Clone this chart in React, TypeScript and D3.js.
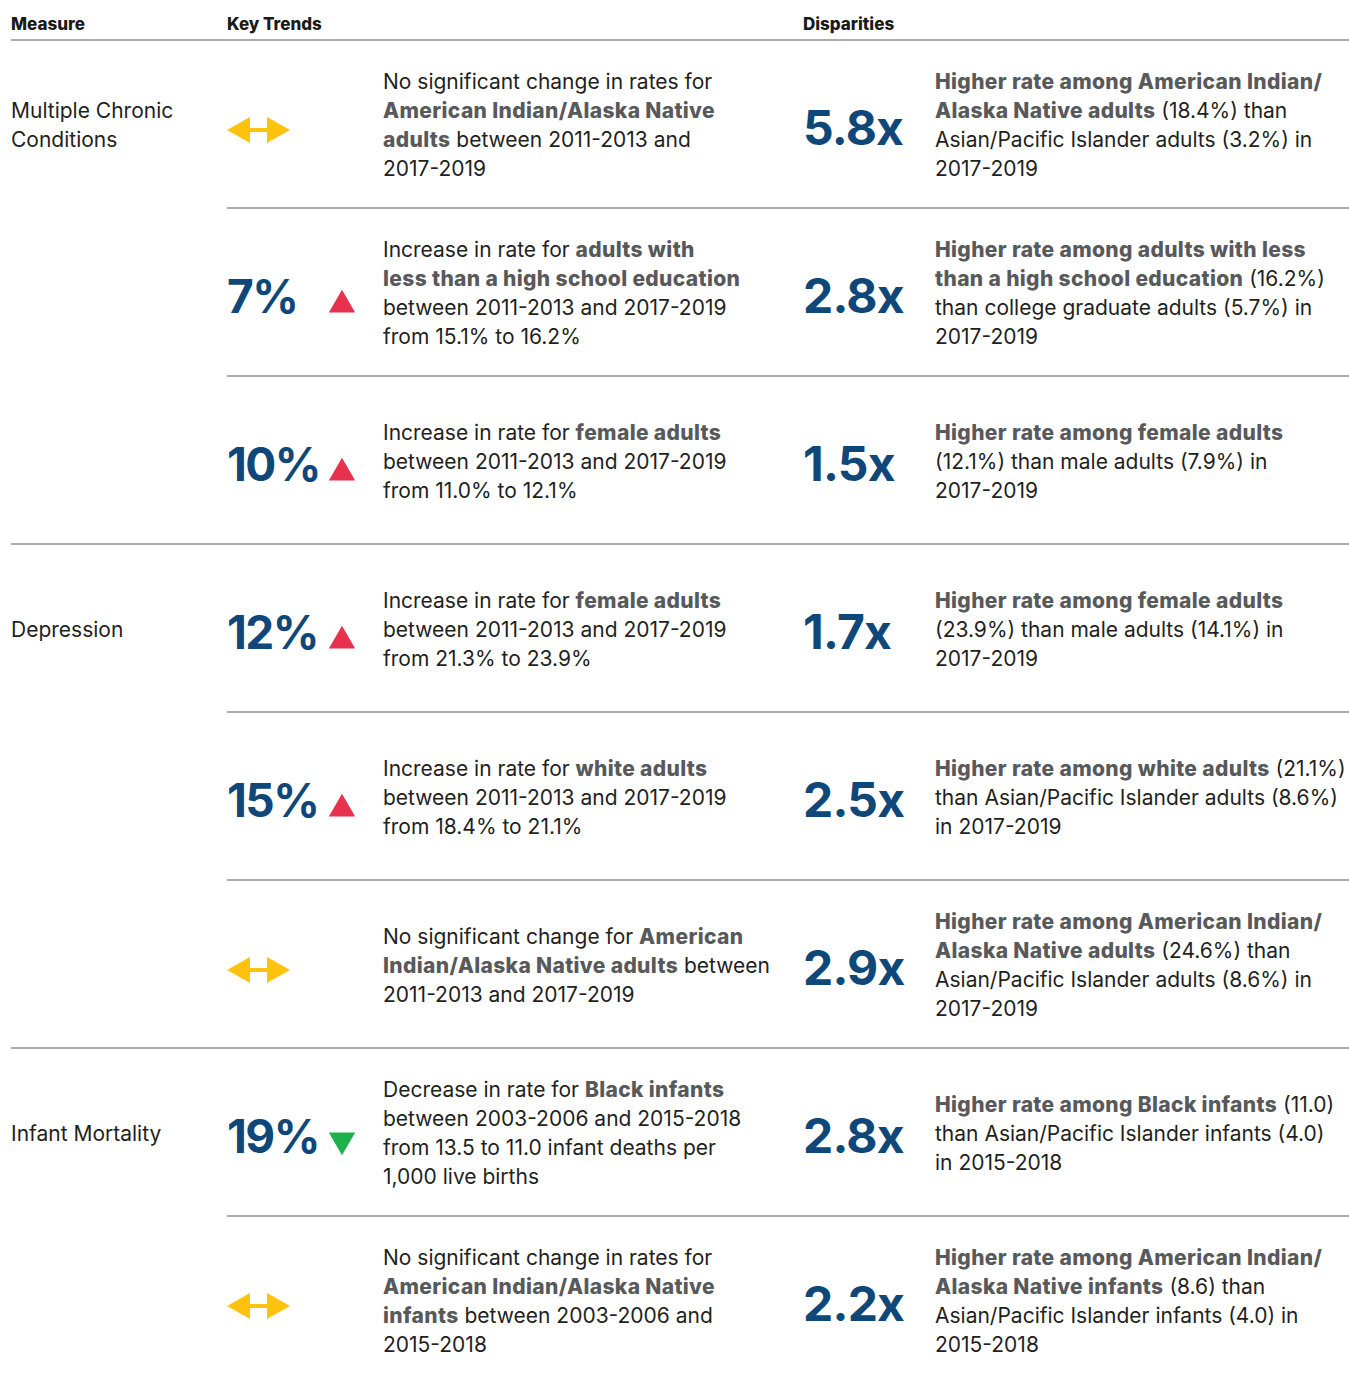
import React from "react";
import * as d3 from "d3";

// column headers
const headers = ["Measure", "Key Trends", "Disparities"];

// measures and how many rows each one spans
const measureLabels = [["Multiple Chronic", "Conditions"], ["Depression"], ["Infant Mortality"]];
const measureRowCounts = [3, 3, 2];

// key trends (one entry per row)
const trendValues = ["", "7%", "10%", "12%", "15%", "", "19%", ""];
const trendDirections = ["none", "up", "up", "up", "up", "none", "down", "none"];
const trendTexts = [
  ["No significant change in rates for", "**American Indian/Alaska Native**", "**adults** between 2011-2013 and", "2017-2019"],
  ["Increase in rate for **adults with**", "**less than a high school education**", "between 2011-2013 and 2017-2019", "from 15.1% to 16.2%"],
  ["Increase in rate for **female adults**", "between 2011-2013 and 2017-2019", "from 11.0% to 12.1%"],
  ["Increase in rate for **female adults**", "between 2011-2013 and 2017-2019", "from 21.3% to 23.9%"],
  ["Increase in rate for **white adults**", "between 2011-2013 and 2017-2019", "from 18.4% to 21.1%"],
  ["No significant change for **American**", "**Indian/Alaska Native adults** between", "2011-2013 and 2017-2019"],
  ["Decrease in rate for **Black infants**", "between 2003-2006 and 2015-2018", "from 13.5 to 11.0 infant deaths per", "1,000 live births"],
  ["No significant change in rates for", "**American Indian/Alaska Native**", "**infants** between 2003-2006 and", "2015-2018"],
];

// disparities (one entry per row)
const disparityValues = ["5.8x", "2.8x", "1.5x", "1.7x", "2.5x", "2.9x", "2.8x", "2.2x"];
const disparityTexts = [
  ["**Higher rate among American Indian/**", "**Alaska Native adults** (18.4%) than", "Asian/Pacific Islander adults (3.2%) in", "2017-2019"],
  ["**Higher rate among adults with less**", "**than a high school education** (16.2%)", "than college graduate adults (5.7%) in", "2017-2019"],
  ["**Higher rate among female adults**", "(12.1%) than male adults (7.9%) in", "2017-2019"],
  ["**Higher rate among female adults**", "(23.9%) than male adults (14.1%) in", "2017-2019"],
  ["**Higher rate among white adults** (21.1%)", "than Asian/Pacific Islander adults (8.6%)", "in 2017-2019"],
  ["**Higher rate among American Indian/**", "**Alaska Native adults** (24.6%) than", "Asian/Pacific Islander adults (8.6%) in", "2017-2019"],
  ["**Higher rate among Black infants** (11.0)", "than Asian/Pacific Islander infants (4.0)", "in 2015-2018"],
  ["**Higher rate among American Indian/**", "**Alaska Native infants** (8.6) than", "Asian/Pacific Islander infants (4.0) in", "2015-2018"],
];

const W = 1349;
const H = 1378;
const FONT = "Inter, 'Noto Sans', sans-serif";
const TEXT = "#231f20";
const BOLD = "#58595b";
const BLUE = "#0e4778";
const RULE = "#acacac";
const LINE_H = 29;

const colX = { measure: 11, trend: 227, symbol: 342, trendText: 383, disp: 803, dispText: 935 };

const parseRich = (line: string) =>
  line.split("**").map((t, i) => ({ t, bold: i % 2 === 1 })).filter((s) => s.t.length);

const RichLines = ({ lines, x, cy }: { lines: string[]; x: number; cy: number }) => {
  const first = cy - ((lines.length - 1) * LINE_H) / 2 + 8.5;
  return (
    <text x={x} fontSize={21} fill={TEXT} style={{ fontFamily: FONT }}>
      {lines.map((line, i) => (
        <tspan key={i} x={x} y={first + i * LINE_H}>
          {parseRich(line).map((s, j) => (
            <tspan key={j} fontWeight={s.bold ? 800 : 400} fill={s.bold ? BOLD : TEXT} letterSpacing={s.bold ? 0.35 : 0}>
              {s.t}
            </tspan>
          ))}
        </tspan>
      ))}
    </text>
  );
};

const App = () => {
  const nRows = trendTexts.length;
  const y = d3.scaleLinear().domain([0, nRows]).range([40, 40 + nRows * 168]);
  const rowH = y(1) - y(0);
  const rows = d3.range(nRows);

  // group start indices
  const groupStarts = measureRowCounts.map((_, i) => d3.sum(measureRowCounts.slice(0, i)));

  const tri = d3.symbol(d3.symbolTriangle, 300)()!;

  const arrow = (cx: number, cy: number) => {
    const p = d3.path();
    const hw = 31.5, head = 23, hh = 13, shaft = 2;
    p.moveTo(cx - hw, cy);
    p.lineTo(cx - hw + head, cy - hh);
    p.lineTo(cx - hw + head, cy - shaft);
    p.lineTo(cx + hw - head, cy - shaft);
    p.lineTo(cx + hw - head, cy - hh);
    p.lineTo(cx + hw, cy);
    p.lineTo(cx + hw - head, cy + hh);
    p.lineTo(cx + hw - head, cy + shaft);
    p.lineTo(cx - hw + head, cy + shaft);
    p.lineTo(cx - hw + head, cy + hh);
    p.closePath();
    return p.toString();
  };

  return (
    <div style={{ position: "absolute", left: 0, top: 0 }}>
      <svg width={W} height={H} style={{ display: "block", background: "#fff" }}>
        {/* header */}
        {headers.map((h, i) => (
          <text
            key={h}
            x={[colX.measure, colX.trend, colX.disp][i]}
            y={29.5}
            fontSize={17}
            fontWeight={800}
            fill="#1a1a1a"
            style={{ fontFamily: FONT }}
          >
            {h}
          </text>
        ))}
        <line x1={11} x2={W} y1={40} y2={40} stroke={RULE} strokeWidth={2} />

        {/* separators */}
        {rows.slice(1).map((r) => (
          <line
            key={r}
            x1={groupStarts.includes(r) ? colX.measure : colX.trend}
            x2={W}
            y1={y(r)}
            y2={y(r)}
            stroke={RULE}
            strokeWidth={2}
          />
        ))}

        {/* measure labels */}
        {measureLabels.map((lines, g) => (
          <RichLines key={g} lines={lines} x={colX.measure} cy={y(groupStarts[g]) + rowH / 2} />
        ))}

        {rows.map((r) => {
          const cy = y(r) + rowH / 2;
          const dir = trendDirections[r];
          return (
            <g key={r}>
              {trendValues[r] && (
                <text x={colX.trend} y={cy + 21} fontSize={46} fontWeight={700} fill={BLUE} letterSpacing={-1.5} style={{ fontFamily: FONT }}>
                  {trendValues[r]}
                </text>
              )}
              {dir === "none" && <path d={arrow(colX.trend + 31.5, cy + 6)} fill="#ffc20e" />}
              {dir === "up" && <path d={tri} transform={`translate(${colX.symbol},${cy + 13})`} fill="#e8304f" />}
              {dir === "down" && <path d={tri} transform={`translate(${colX.symbol},${cy + 8}) rotate(180)`} fill="#1db04b" />}
              <RichLines lines={trendTexts[r]} x={colX.trendText} cy={cy} />
              <text x={colX.disp} y={cy + 21} fontSize={48} fontWeight={700} fill={BLUE} letterSpacing={-0.8} style={{ fontFamily: FONT }}>
                {disparityValues[r]}
              </text>
              <RichLines lines={disparityTexts[r]} x={colX.dispText} cy={cy} />
            </g>
          );
        })}
      </svg>
    </div>
  );
};

export default App;
